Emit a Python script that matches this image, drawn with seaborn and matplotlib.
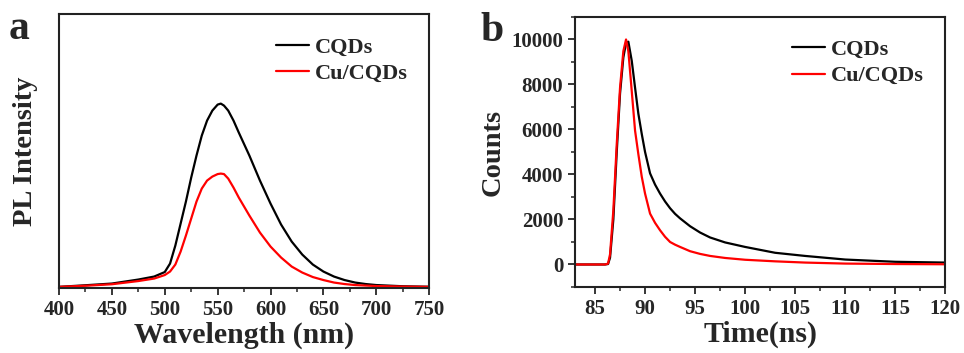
import numpy as np
import pandas as pd
import matplotlib
matplotlib.use("Agg")
import matplotlib.pyplot as plt
import seaborn as sns
from matplotlib.ticker import MultipleLocator

# PL spectra (a.u.)
wavelength = [400, 425, 450, 475, 490, 500, 505, 510, 515, 520, 525, 530, 535, 540, 545,
              550, 553, 556, 560, 565, 570, 580, 590, 600, 610, 620, 630, 640, 650, 660,
              670, 680, 690, 700, 725, 750]
pl_cqds = [0.7, 2.3, 4, 8, 11, 15.5, 24, 42, 64, 86, 110, 132, 152, 167, 177,
           183, 184, 182, 177, 167, 155, 132, 107, 84, 63, 46, 33, 23, 16, 11,
           7.5, 5, 3.5, 2.5, 1.3, 0.8]
pl_cu = [0.7, 1.8, 3.3, 6.5, 9, 12.5, 16, 23, 36, 52, 69, 86, 99, 107, 111,
         113.5, 114, 113.5, 109, 100, 90, 72, 55, 41, 30, 21, 15, 10.5, 7.5, 5,
         3.5, 2.5, 2, 1.5, 1, 0.7]

# TRPL decay
time_ns = [83, 86, 86.3, 86.5, 86.83, 87.17, 87.5, 87.83, 88.1, 88.33, 88.67, 89, 89.33,
           89.67, 90, 90.5, 91, 91.5, 92, 92.5, 93, 93.5, 94.5, 95.5, 96.5, 98, 100, 103,
           106, 110, 115, 120]
counts_cqds = [0, 0, 20, 300, 2000, 5000, 7600, 9200, 9850, 9900, 9050, 7860, 6700,
               5800, 5000, 4050, 3550, 3150, 2800, 2500, 2250, 2050, 1700, 1420, 1200,
               980, 780, 520, 380, 220, 120, 85]
counts_cu = [0, 0, 40, 450, 2400, 5350, 7860, 9480, 10000, 9480, 7700, 5950, 4900,
             3900, 3150, 2260, 1850, 1520, 1230, 1000, 880, 780, 590, 470, 380,
             290, 210, 140, 85, 40, 20, 10]

sns.set_style("ticks")
plt.rcParams['font.family'] = ['Liberation Serif', 'DejaVu Serif']
plt.rcParams['font.weight'] = 'bold'
plt.rcParams['axes.linewidth'] = 1.5

fig = plt.figure(figsize=(9.64, 3.53), dpi=100)
ax1 = fig.add_axes([0.0612, 0.184, 0.384, 0.776])
ax2 = fig.add_axes([0.5965, 0.187, 0.384, 0.765])

# panel a
sns.lineplot(x=wavelength, y=pl_cqds, ax=ax1, color="black", lw=1.6, label="CQDs")
sns.lineplot(x=wavelength, y=pl_cu, ax=ax1, color="red", lw=1.6, label="Cu/CQDs")
ax1.set_xlim(400, 750)
ax1.set_ylim(-0.5, 273.5)
ax1.xaxis.set_major_locator(MultipleLocator(50))
ax1.xaxis.set_minor_locator(MultipleLocator(25))
ax1.set_yticks([])
ax1.set_xlabel("Wavelength (nm)", fontsize=21.5, fontweight="bold", labelpad=1)
ax1.set_ylabel("PL Intensity", fontsize=20.5, fontweight="bold", labelpad=15)
ax1.text(-0.135, 1.015, "a", transform=ax1.transAxes, fontsize=30, fontweight="bold",
         va="top", ha="left")

# panel b
sns.lineplot(x=time_ns, y=counts_cqds, ax=ax2, color="black", lw=1.6, label="CQDs")
sns.lineplot(x=time_ns, y=counts_cu, ax=ax2, color="red", lw=1.6, label="Cu/CQDs")
ax2.set_xlim(83, 120)
ax2.set_ylim(-1000, 11000)
ax2.xaxis.set_major_locator(MultipleLocator(5))
ax2.xaxis.set_minor_locator(MultipleLocator(2.5))
ax2.yaxis.set_major_locator(MultipleLocator(2000))
ax2.yaxis.set_minor_locator(MultipleLocator(1000))
ax2.set_yticks([0, 2000, 4000, 6000, 8000, 10000])
ax2.set_xlabel("Time(ns)", fontsize=21.5, fontweight="bold", labelpad=1)
ax2.set_ylabel("Counts", fontsize=20.5, fontweight="bold", labelpad=4)
ax2.text(-0.255, 1.02, "b", transform=ax2.transAxes, fontsize=30, fontweight="bold",
         va="top", ha="left")

for ax in (ax1, ax2):
    for s in ax.spines.values():
        s.set_visible(True)
        s.set_color("#222222")
    ax.tick_params(which="major", direction="out", length=5, width=1.3, labelsize=15)
    ax.tick_params(which="minor", direction="out", length=3, width=1.1)
    for lbl in ax.get_xticklabels() + ax.get_yticklabels():
        lbl.set_fontweight("bold")
    ax.legend(loc="upper right", frameon=False, fontsize=16, handlelength=1.5,
              handletextpad=0.25, labelspacing=0.25, bbox_to_anchor=(0.995, 0.99))

fig.savefig("out.png", dpi=100)
